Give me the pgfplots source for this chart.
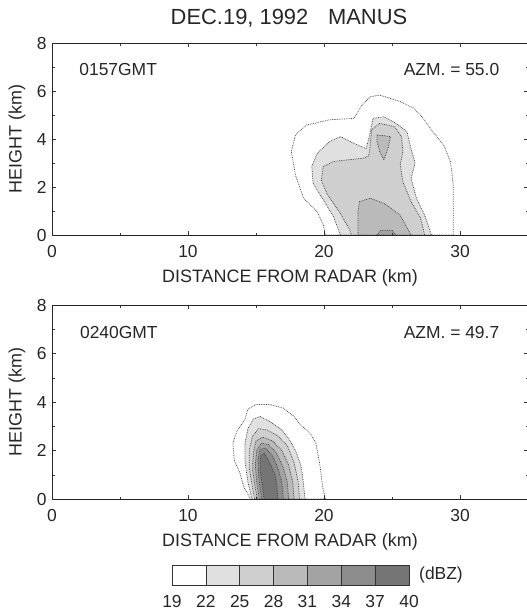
\documentclass[border=0pt]{standalone}
\usepackage{fontspec}
\setmainfont{Liberation Sans}
\usepackage{pgfplots}
\pgfplotsset{compat=1.18}
\definecolor{txt}{gray}{0.15}
\definecolor{lev22}{gray}{0.88}
\definecolor{lev25}{gray}{0.81}
\definecolor{lev28}{gray}{0.73}
\definecolor{lev31}{gray}{0.64}
\definecolor{lev34}{gray}{0.55}
\definecolor{lev37}{gray}{0.46}
\pgfplotsset{
  panel/.style={
    scale only axis, width=476bp,
    xmin=0, xmax=35, ymin=0, ymax=8,
    xtick={0,10,20,30}, minor xtick={5,15,25},
    ytick={0,2,4,6,8}, minor ytick={1,3,5,7},
    tick align=inside, major tick length=4bp, minor tick length=2.5bp,
    tick style={black!80, line width=0.5pt},
    axis line style={black!85, line width=0.6pt},
    axis on top,
    /pgf/number format/assume math mode=true,
    ticklabel style={font=\fontsize{17.5}{20}\selectfont, text=txt},
    xticklabel style={anchor=base, yshift=-22bp},
    yticklabel style={xshift=-2bp},
    label style={font=\fontsize{18}{21}\selectfont, text=txt},
    xlabel={DISTANCE FROM RADAR (km)},
    ylabel={HEIGHT (km)},
    xlabel style={at={(axis description cs:0.5,-0.245)}, anchor=base},
    ylabel style={at={(axis description cs:-0.0735,0.5)}, anchor=center, rotate=0},
  },
  ctr/.style={draw=black!75, densely dotted, line width=0.75pt},
}
\begin{document}
\begin{tikzpicture}
% title
\node[font=\fontsize{22}{26}\selectfont, text=txt] at (237bp,217bp) {DEC.19, 1992\hspace{0.9em}MANUS};

% ---------------- top panel ----------------
\begin{axis}[panel, height=192bp, at={(0bp,0bp)}, anchor=south west]
\addplot[ctr, fill=white] coordinates {(29.5,0) (29.5,1.0) (29.5,2.1) (29.3,3.05) (28.8,3.75) (28.0,4.3) (27.3,4.86) (26.6,5.28) (25.6,5.56) (24.1,5.83) (23.4,5.76) (22.8,5.42) (22.2,4.86) (20.4,4.8) (18.7,4.58) (17.9,4.17) (17.6,3.47) (17.9,2.5) (18.5,1.53) (19.5,0.97) (19.95,0.42) (20.1,0)} --cycle;
\addplot[ctr, fill=lev22] coordinates {(27.9,0) (27.4,0.83) (26.8,1.53) (26.4,2.36) (26.7,2.99) (26.4,3.6) (26.1,4.3) (25.3,4.65) (24.4,4.93) (23.6,4.86) (23.5,4.58) (23.3,4.03) (23.1,3.6) (22.2,3.82) (21.2,4.1) (20.4,3.89) (19.5,3.4) (19.1,2.85) (19.2,2.15) (19.95,1.46) (20.7,0.76) (21.2,0)} --cycle;
\addplot[ctr, fill=lev25] coordinates {(27.4,0) (27.1,0.7) (26.4,1.39) (25.8,2.22) (25.6,2.92) (25.8,3.47) (25.7,4.1) (25.2,4.51) (24.1,4.65) (23.5,4.38) (23.4,3.75) (23.3,3.3) (22.9,3.2) (21.7,3.13) (20.7,3.06) (19.95,2.85) (19.8,2.29) (20.2,1.74) (21.2,0.9) (21.9,0.2) (22.0,0)} --cycle;
\addplot[ctr, fill=lev28] coordinates {(23.9,4.17) (24.9,4.1) (24.7,3.6) (24.4,3.13) (24.1,3.47) (23.9,3.89)} --cycle;
\addplot[ctr, fill=lev28] coordinates {(26.4,0) (26.3,0.1) (25.6,0.83) (24.4,1.32) (23.4,1.53) (22.6,1.39) (22.5,0.97) (22.5,0)} --cycle;
\addplot[ctr, fill=lev31] coordinates {(25.3,0) (25.0,0.2) (24.2,0.2) (23.9,0)} --cycle;
\node[anchor=west, inner sep=0, font=\fontsize{17.5}{20}\selectfont, text=txt] at (axis cs:2.0,6.9) {0157GMT};
\node[anchor=east, inner sep=0, font=\fontsize{17.5}{20}\selectfont, text=txt] at (axis cs:32.9,6.9) {AZM. = 55.0};
\end{axis}

% ---------------- bottom panel ----------------
\begin{axis}[panel, height=194bp, at={(0bp,-264bp)}, anchor=south west]
\addplot[ctr, fill=white] coordinates {(20.1,0) (19.9,0.5) (19.7,1.4) (19.4,2.3) (19.0,2.7) (18.2,3.1) (17.8,3.4) (17.0,3.75) (16.0,3.9) (15.0,3.9) (14.4,3.7) (14.2,3.3) (13.6,2.8) (13.3,2.3) (13.4,1.6) (13.8,1.1) (14.1,0.5) (14.6,0)} --cycle;
\addplot[ctr, fill=lev22] coordinates {(18.6,0) (18.5,0.6) (18.3,1.4) (17.9,2.0) (17.4,2.5) (16.8,2.9) (16.0,3.2) (15.3,3.4) (14.8,3.3) (14.4,2.9) (14.2,2.3) (14.2,1.5) (14.4,0.7) (14.7,0)} --cycle;
\addplot[ctr, fill=lev25] coordinates {(18.2,0) (18.1,0.7) (17.8,1.5) (17.3,2.2) (16.6,2.6) (15.8,2.85) (15.2,2.9) (14.75,2.6) (14.5,2.0) (14.5,1.3) (14.7,0.6) (14.9,0)} --cycle;
\addplot[ctr, fill=lev28] coordinates {(17.8,0) (17.7,0.7) (17.4,1.4) (16.9,2.0) (16.2,2.4) (15.5,2.55) (15.0,2.4) (14.8,1.9) (14.75,1.2) (14.9,0.6) (15.1,0)} --cycle;
\addplot[ctr, fill=lev31] coordinates {(17.4,0) (17.3,0.7) (17.0,1.3) (16.5,1.9) (15.9,2.25) (15.4,2.3) (15.05,2.0) (14.95,1.4) (15.05,0.7) (15.25,0)} --cycle;
\addplot[ctr, fill=lev34] coordinates {(17.0,0) (16.9,0.7) (16.6,1.3) (16.2,1.8) (15.7,2.1) (15.3,2.05) (15.15,1.6) (15.2,0.9) (15.4,0)} --cycle;
\addplot[ctr, fill=lev37] coordinates {(16.6,0) (16.55,0.5) (16.4,1.0) (16.0,1.5) (15.6,1.9) (15.35,1.8) (15.3,1.2) (15.45,0.6) (15.6,0)} --cycle;
\node[anchor=west, inner sep=0, font=\fontsize{17.5}{20}\selectfont, text=txt] at (axis cs:2.05,6.85) {0240GMT};
\node[anchor=east, inner sep=0, font=\fontsize{17.5}{20}\selectfont, text=txt] at (axis cs:32.9,6.85) {AZM. = 49.7};
\end{axis}

% ---------------- colour key ----------------
\begin{axis}[scale only axis, width=237bp, height=20bp, at={(120bp,-350bp)}, anchor=south west,
  xmin=19, xmax=40, ymin=0, ymax=1,
  xtick={19,22,...,40}, ytick=\empty,
  axis line style={draw=none}, xtick style={draw=none},
  /pgf/number format/assume math mode=true,
  ticklabel style={font=\fontsize{17.5}{20}\selectfont, text=txt},
  xticklabel style={anchor=base, yshift=-22bp},
  clip=false]
\addplot[draw=black!80, line width=0.6pt, fill=white] coordinates {(19,0) (22,0) (22,1) (19,1)} --cycle;
\addplot[draw=black!80, line width=0.6pt, fill=lev22] coordinates {(22,0) (25,0) (25,1) (22,1)} --cycle;
\addplot[draw=black!80, line width=0.6pt, fill=lev25] coordinates {(25,0) (28,0) (28,1) (25,1)} --cycle;
\addplot[draw=black!80, line width=0.6pt, fill=lev28] coordinates {(28,0) (31,0) (31,1) (28,1)} --cycle;
\addplot[draw=black!80, line width=0.6pt, fill=lev31] coordinates {(31,0) (34,0) (34,1) (31,1)} --cycle;
\addplot[draw=black!80, line width=0.6pt, fill=lev34] coordinates {(34,0) (37,0) (37,1) (34,1)} --cycle;
\addplot[draw=black!80, line width=0.6pt, fill=lev37] coordinates {(37,0) (40,0) (40,1) (37,1)} --cycle;
\node[anchor=west, inner sep=0, xshift=10bp, font=\fontsize{17.5}{20}\selectfont, text=txt] at (axis cs:40,0.5) {(dBZ)};
\end{axis}

\pgfresetboundingbox
\useasboundingbox (-52bp,-377bp) rectangle (475bp,235bp);
\end{tikzpicture}
\end{document}
